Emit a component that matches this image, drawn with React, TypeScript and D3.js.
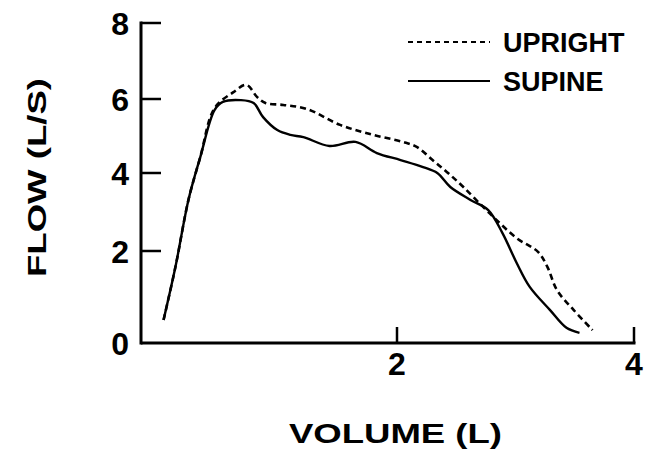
import { useEffect, useRef } from "react";
import * as d3 from "d3";

// volume (L) / flow (L/s)
const supineVolume = [0.03, 0.13, 0.24, 0.34, 0.46, 0.53, 0.68, 0.79, 0.87, 0.99, 1.1, 1.21, 1.43, 1.65, 1.83, 2.03, 2.22, 2.34, 2.45, 2.62, 2.77, 2.89, 3.01, 3.12, 3.29, 3.43, 3.54];
const supineFlow = [0.5, 1.65, 3.31, 4.43, 5.7, 5.92, 5.97, 5.89, 5.51, 5.16, 5.03, 4.97, 4.73, 4.84, 4.54, 4.35, 4.16, 4.0, 3.64, 3.31, 3.05, 2.46, 1.74, 1.22, 0.72, 0.33, 0.22];

const uprightVolume = [0.03, 0.13, 0.24, 0.34, 0.46, 0.62, 0.73, 0.82, 0.89, 1.04, 1.24, 1.52, 1.8, 2.05, 2.17, 2.3, 2.42, 2.56, 2.78, 3.01, 3.19, 3.27, 3.35, 3.49, 3.65];
const uprightFlow = [0.5, 1.65, 3.31, 4.43, 5.75, 6.18, 6.37, 6.05, 5.89, 5.84, 5.73, 5.3, 5.03, 4.84, 4.7, 4.35, 4.03, 3.64, 2.97, 2.33, 1.98, 1.65, 1.15, 0.72, 0.28];

const xTicks = [2, 4];
const yTicks = [0, 2, 4, 6, 8];
const legendItems = [
  { label: "UPRIGHT", dash: "5,4" },
  { label: "SUPINE", dash: "" },
];

const W = 652;
const H = 453;
const FONT = "'Liberation Sans', Arial, Helvetica, sans-serif";

export default function App() {
  const svgRef = useRef<SVGSVGElement>(null);

  useEffect(() => {
    if (!svgRef.current) return;
    const svg = d3.select(svgRef.current);
    svg.selectAll("*").remove();

    const x = d3.scaleLinear().domain([0, 4]).range([160, 634]);
    // the printed axis is not quite even, so map each tick where it sits
    const y = d3.scaleLinear().domain(yTicks).range([343, 251, 173, 99, 23]);

    const line = d3
      .line<[number, number]>()
      .x((d) => x(d[0]))
      .y((d) => y(d[1]))
      .curve(d3.curveCatmullRom.alpha(0.5));

    // axes
    svg.append("line")
      .attr("x1", 141).attr("x2", 141)
      .attr("y1", y(8) - 1.5).attr("y2", y(0) + 1.5)
      .attr("stroke", "#000").attr("stroke-width", 3);
    svg.append("line")
      .attr("x1", 141).attr("x2", x(4) + 1.5)
      .attr("y1", y(0)).attr("y2", y(0))
      .attr("stroke", "#000").attr("stroke-width", 3);

    yTicks.filter((t) => t > 0).forEach((t) => {
      svg.append("line")
        .attr("x1", 141).attr("x2", 161)
        .attr("y1", y(t)).attr("y2", y(t))
        .attr("stroke", "#000").attr("stroke-width", 2.5);
    });
    yTicks.forEach((t) => {
      svg.append("text")
        .attr("x", 129).attr("y", y(t))
        .attr("dy", "0.36em")
        .attr("text-anchor", "end")
        .attr("font-family", FONT).attr("font-weight", "bold")
        .attr("font-size", 32)
        .text(t);
    });

    xTicks.forEach((t) => {
      svg.append("line")
        .attr("x1", x(t)).attr("x2", x(t))
        .attr("y1", y(0)).attr("y2", y(0) - 16)
        .attr("stroke", "#000").attr("stroke-width", 2.5);
      svg.append("text")
        .attr("x", x(t)).attr("y", 375)
        .attr("text-anchor", "middle")
        .attr("font-family", FONT).attr("font-weight", "bold")
        .attr("font-size", 32)
        .text(t);
    });

    // axis titles (the print uses a wide face, so stretch the glyphs)
    svg.append("text")
      .attr("x", 289).attr("y", 443)
      .attr("textLength", 213).attr("lengthAdjust", "spacingAndGlyphs")
      .attr("font-family", FONT).attr("font-weight", "bold")
      .attr("font-size", 28)
      .text("VOLUME (L)");
    svg.append("text")
      .attr("transform", "translate(46,277) rotate(-90)")
      .attr("textLength", 199).attr("lengthAdjust", "spacingAndGlyphs")
      .attr("font-family", FONT).attr("font-weight", "bold")
      .attr("font-size", 25)
      .text("FLOW (L/S)");

    // curves: upright underneath so the shared rise stays solid
    const upright = d3.zip(uprightVolume, uprightFlow) as [number, number][];
    const supine = d3.zip(supineVolume, supineFlow) as [number, number][];
    svg.append("path")
      .attr("d", line(upright))
      .attr("fill", "none").attr("stroke", "#000")
      .attr("stroke-width", 2.6).attr("stroke-dasharray", "6,4");
    svg.append("path")
      .attr("d", line(supine))
      .attr("fill", "none").attr("stroke", "#000")
      .attr("stroke-width", 2.4);

    // legend
    legendItems.forEach((item, i) => {
      const ly = 42 + i * 39;
      svg.append("line")
        .attr("x1", 408).attr("x2", 490)
        .attr("y1", ly).attr("y2", ly)
        .attr("stroke", "#000").attr("stroke-width", item.dash ? 2 : 1.8)
        .attr("stroke-dasharray", item.dash || null);
      svg.append("text")
        .attr("x", 503).attr("y", ly)
        .attr("dy", "0.36em")
        .attr("font-family", FONT).attr("font-weight", "bold")
        .attr("font-size", 27)
        .text(item.label);
    });
  }, []);

  return (
    <svg
      ref={svgRef}
      width={W}
      height={H}
      viewBox={`0 0 ${W} ${H}`}
      style={{ position: "absolute", left: 0, top: 0, background: "#fff" }}
    />
  );
}
